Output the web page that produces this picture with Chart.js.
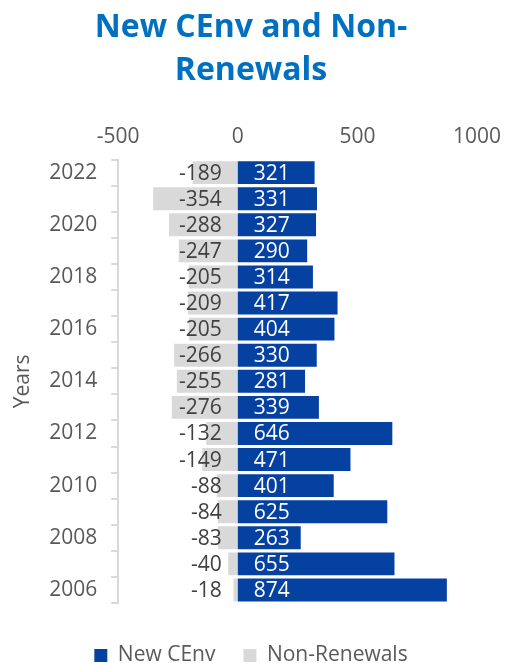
<!DOCTYPE html>
<html>
<head>
<meta charset="utf-8">
<script src="https://cdn.jsdelivr.net/npm/chart.js@4"></script>
<style>
  html, body { margin:0; padding:0; background:#fff; overflow:hidden; }
  #wrap { width:508px; height:663px; position:relative; overflow:hidden; }
</style>
</head>
<body>
<div id="wrap"><canvas id="chart" width="508" height="676"></canvas></div>
<script>
// values
const years = ['2022','2021','2020','2019','2018','2017','2016','2015','2014','2013','2012','2011','2010','2009','2008','2007','2006'];
const newCEnv = [321, 331, 327, 290, 314, 417, 404, 330, 281, 339, 646, 471, 401, 625, 263, 655, 874];
const nonRenewals = [-189, -354, -288, -247, -205, -209, -205, -266, -255, -276, -132, -149, -88, -84, -83, -40, -18];
const xTicks = [-500, 0, 500, 1000];

const FONT = "'Open Sans', sans-serif";

// labels sit next to the zero line: negatives to the left, positives to the right
const barLabels = {
  id: 'barLabels',
  afterDatasetsDraw(chart) {
    const ctx = chart.ctx;
    const zero = chart.scales.x.getPixelForValue(0);
    ctx.save();
    ctx.font = '21px ' + FONT;
    ctx.textBaseline = 'middle';
    chart.data.datasets.forEach((ds, di) => {
      const meta = chart.getDatasetMeta(di);
      meta.data.forEach((bar, i) => {
        const v = ds.data[i];
        if (v < 0) {
          ctx.fillStyle = '#404040';
          ctx.textAlign = 'right';
          ctx.fillText(String(v), zero - 16, bar.y + 1);
        } else {
          ctx.fillStyle = '#ffffff';
          ctx.textAlign = 'left';
          ctx.fillText(String(v), zero + 16, bar.y + 1);
        }
      });
    });
    ctx.restore();
  }
};

new Chart(document.getElementById('chart').getContext('2d'), {
  type: 'bar',
  data: {
    labels: years,
    datasets: [
      { label: 'New CEnv', data: newCEnv, backgroundColor: '#0541A0', borderWidth: 0,
        categoryPercentage: 1, barPercentage: 0.88 },
      { label: 'Non-Renewals', data: nonRenewals, backgroundColor: '#D9D9D9', borderWidth: 0,
        categoryPercentage: 1, barPercentage: 0.88 }
    ]
  },
  options: {
    indexAxis: 'y',
    responsive: false,
    animation: false,
    layout: { padding: { left: 25, right: 31, top: 4, bottom: 0 } },
    scales: {
      x: {
        position: 'top',
        stacked: true,
        min: -500, max: 1000,
        afterBuildTicks(axis) { axis.ticks = xTicks.map(v => ({ value: v })); },
        afterFit(axis) { axis.paddingRight = 0; },
        grid: { display: false, drawTicks: false },
        border: { display: false },
        ticks: { color: '#595959', font: { family: FONT, size: 21 }, padding: 10,
          callback: v => String(v) }
      },
      y: {
        stacked: true,
        grid: { offset: true, drawOnChartArea: false, drawTicks: true, tickLength: 7, color: '#D9D9D9', lineWidth: 2 },
        border: { display: true, color: '#D9D9D9', width: 2 },
        title: { display: true, text: 'Years', color: '#595959', font: { family: FONT, size: 21 },
          padding: { top: -15, bottom: 0 } },
        ticks: {
          color: '#595959', font: { family: FONT, size: 21 }, padding: 14, autoSkip: false,
          callback(val, idx) { return idx % 2 === 0 ? this.getLabelForValue(val) : ''; }
        }
      }
    },
    plugins: {
      title: {
        display: true,
        text: ['New CEnv and Non-', 'Renewals'],
        color: '#0070C0',
        font: { family: FONT, size: 32, weight: 'bold', lineHeight: 1.35 },
        padding: { top: 2, bottom: 22 }
      },
      legend: {
        position: 'bottom',
        title: { display: true, text: ' ', font: { size: 10, lineHeight: 1.2 }, padding: { top: 0, bottom: 2 } },
        labels: { color: '#595959', font: { family: FONT, size: 21 }, boxWidth: 13, boxHeight: 13, padding: 28 }
      },
      tooltip: { enabled: false }
    }
  },
  plugins: [barLabels]
});
</script>
</body>
</html>
